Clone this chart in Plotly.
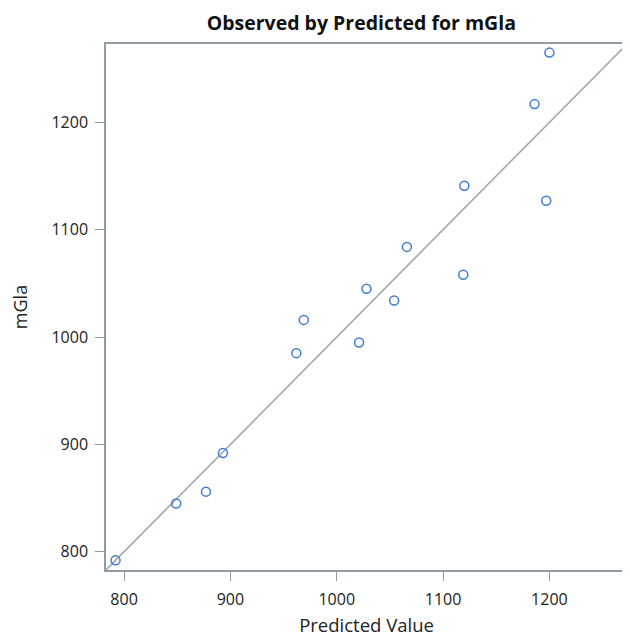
import plotly.graph_objects as go

# Data
predicted = [792, 849, 877, 893, 962, 969, 1021, 1028, 1054, 1066, 1119, 1120, 1186, 1197, 1200]
observed  = [792, 845, 856, 892, 985, 1016, 995, 1045, 1034, 1084, 1058, 1141, 1217, 1127, 1265]
tick_vals = [800, 900, 1000, 1100, 1200]
axis_lo, axis_hi = 783, 1273

fig = go.Figure()
fig.add_trace(go.Scatter(
    x=[axis_lo, axis_hi], y=[axis_lo, axis_hi], mode="lines",
    line=dict(color="#9fa9ab", width=1.6), hoverinfo="skip", showlegend=False))
fig.add_trace(go.Scatter(
    x=predicted, y=observed, mode="markers",
    marker=dict(symbol="circle-open", size=9, color="#3f7bd6", line=dict(width=1.5)),
    showlegend=False))

axis_common = dict(
    range=[axis_lo, axis_hi], tickvals=tick_vals, showgrid=False, zeroline=False,
    showline=True, linecolor="#8d9ca6", linewidth=1.5, mirror=True,
    ticks="outside", ticklen=9, tickcolor="#8d9ca6", tickwidth=1,
    tickfont=dict(family="Open Sans", size=16, color="#222"),
)
fig.update_xaxes(**axis_common, ticklabelstandoff=5,
                 title=dict(text="Predicted Value", font=dict(family="Open Sans", size=18.5, color="#222"), standoff=10))
fig.update_yaxes(**axis_common, ticklabelstandoff=4,
                 title=dict(text="mGla", font=dict(family="Open Sans", size=18, color="#222"), standoff=22))

fig.update_layout(
    width=630, height=639,
    margin=dict(l=97, r=9, t=36, b=77),
    paper_bgcolor="white", plot_bgcolor="white",
    title=dict(text="<b>Observed by Predicted for mGla</b>", xref="paper", x=0.49, xanchor="center",
               y=0.976, yanchor="middle",
               font=dict(family="Open Sans", size=19.5, color="#111")),
)
fig.write_html("out.html")
